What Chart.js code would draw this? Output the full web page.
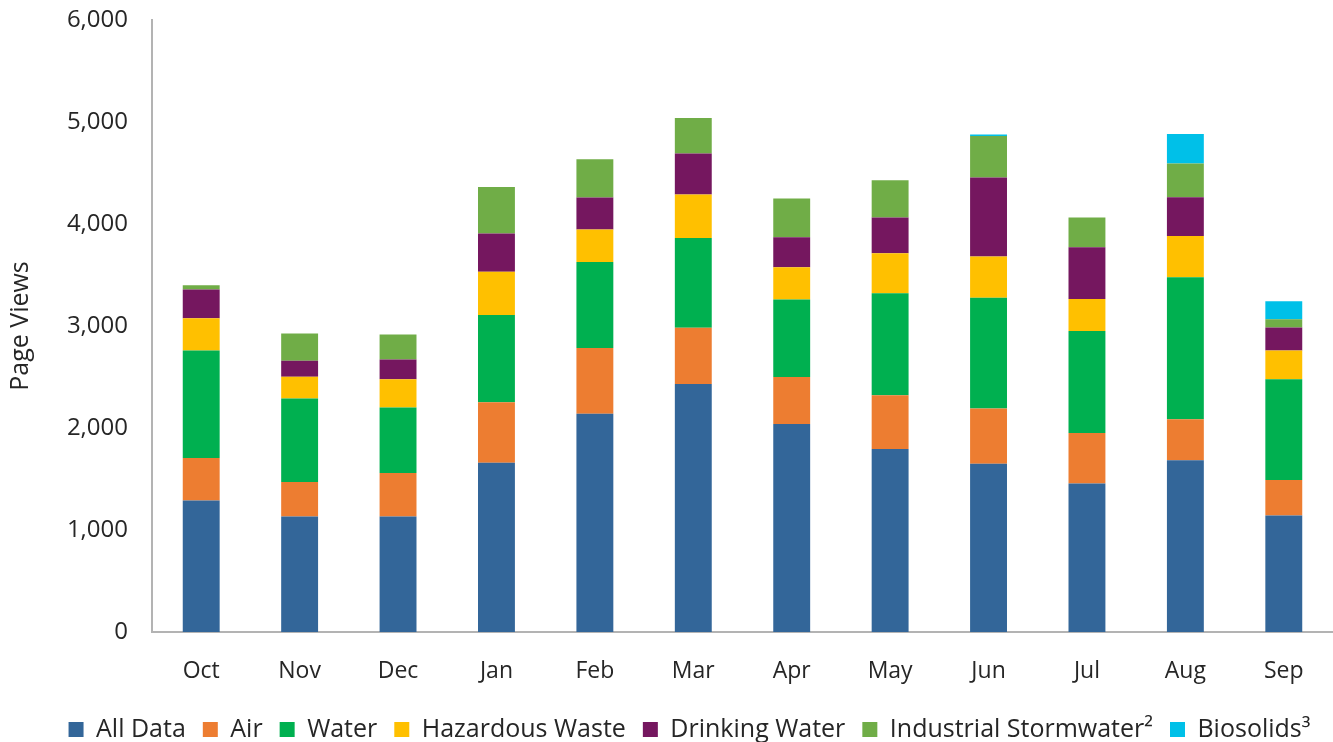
<!DOCTYPE html>
<html>
<head>
<meta charset="utf-8">
<script src="https://cdn.jsdelivr.net/npm/chart.js@4.4.0/dist/chart.umd.min.js"></script>
<style>
  html, body { margin: 0; padding: 0; background: #ffffff; }
  #wrap { width: 1333px; height: 742px; position: relative; }
</style>
</head>
<body>
<div id="wrap"><canvas id="c" width="1333" height="742"></canvas></div>
<script>
const months = ["Oct", "Nov", "Dec", "Jan", "Feb", "Mar", "Apr", "May", "Jun", "Jul", "Aug", "Sep"];
const allData = [1290, 1133, 1133, 1659, 2140, 2432, 2039, 1795, 1650, 1457, 1683, 1143];
const air = [416, 337, 426, 593, 644, 552, 460, 526, 540, 495, 403, 347];
const water = [1054, 819, 641, 857, 844, 878, 762, 999, 1088, 998, 1391, 988];
const hazardousWaste = [315, 213, 278, 424, 318, 426, 316, 393, 403, 314, 406, 282];
const drinkingWater = [282, 157, 194, 373, 315, 404, 294, 351, 776, 508, 380, 226];
const industrialStormwater = [42, 268, 245, 456, 373, 348, 380, 366, 405, 292, 331, 79];
const biosolids = [0, 0, 0, 0, 0, 0, 0, 0, 15, 0, 288, 177];
const yTicks = [0, 1000, 2000, 3000, 4000, 5000, 6000];

const seriesNames = ["All Data", "Air", "Water", "Hazardous Waste", "Drinking Water", "Industrial Stormwater\u00B2", "Biosolids\u00B3"];
const seriesValues = [allData, air, water, hazardousWaste, drinkingWater, industrialStormwater, biosolids];
const seriesColors = ["#336699", "#ED7D31", "#00B050", "#FFC000", "#75175F", "#70AD47", "#00C0E8"];

const FONT = "'Open Sans', 'DejaVu Sans', sans-serif";
const TEXT = "#262626";
const AXIS = "#B3B3B3";

const datasets = seriesNames.map((name, i) => ({
  label: name,
  data: seriesValues[i],
  backgroundColor: seriesColors[i],
  borderWidth: 0,
  barPercentage: 0.375,
  categoryPercentage: 1.0,
  stack: "s"
}));

const legendShift = {
  id: "legendShift",
  afterLayout(chart) {
    if (chart.legend) {
      chart.legend.left += 23;
      chart.legend.right += 23;
    }
  }
};

new Chart(document.getElementById("c"), {
  type: "bar",
  data: { labels: months, datasets: datasets },
  plugins: [legendShift],
  options: {
    responsive: false,
    animation: false,
    layout: { padding: { top: 20, right: 0, bottom: -10, left: 0 } },
    plugins: {
      tooltip: { enabled: false },
      legend: {
        position: "bottom",
        labels: {
          font: { family: FONT, size: 25 },
          color: TEXT,
          boxWidth: 15,
          boxHeight: 15,
          padding: 17
        }
      }
    },
    scales: {
      x: {
        stacked: true,
        grid: { display: false, drawTicks: false },
        border: { display: true, color: AXIS, width: 2 },
        ticks: { font: { family: FONT, size: 23 }, color: TEXT, padding: 26 },
        afterFit: (s) => { s.height = 68; }
      },
      y: {
        stacked: true,
        min: 0,
        max: 6000,
        afterBuildTicks: (s) => { s.ticks = yTicks.map(v => ({ value: v })); },
        grid: { display: false, drawTicks: true, tickLength: 24 },
        border: { display: true, color: AXIS, width: 2 },
        ticks: {
          font: { family: FONT, size: 24 },
          color: TEXT,
          padding: 0,
          callback: (v) => v.toLocaleString("en-US")
        },
        title: {
          display: true,
          text: "Page Views",
          font: { family: FONT, size: 25 },
          color: TEXT,
          padding: { top: 6, bottom: 4 }
        },
        afterFit: (s) => { s.width = 152; }
      }
    }
  }
});
</script>
</body>
</html>
